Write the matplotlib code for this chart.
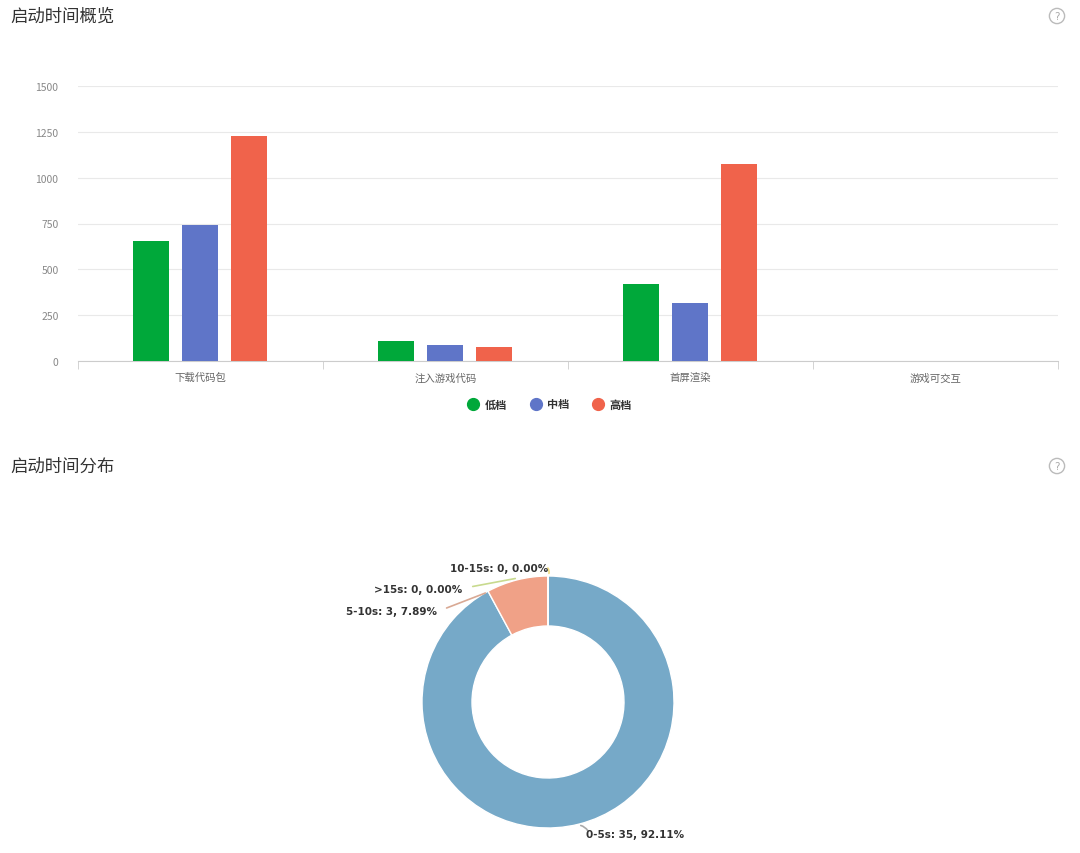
import numpy as np
import matplotlib.pyplot as plt
from matplotlib.lines import Line2D

plt.rcParams['font.family'] = ['Noto Sans CJK SC', 'DejaVu Sans']

# data
stages = ['下载代码包', '注入游戏代码', '首屏渲染', '游戏可交互']
low = [655, 109, 420, 0]
mid = [742, 87, 316, 0]
high = [1227, 76, 1075, 0]
tiers = ['低档', '中档', '高档']
tier_colors = ['#00a83a', '#5f75c8', '#f0634b']

ranges = ['0-5s', '5-10s', '>15s', '10-15s']
counts = [35, 3, 0, 0]
pie_colors = ['#76a9c8', '#f0a187', '#c8da8e', '#f0dc80']

W, H = 1080, 854
fig = plt.figure(figsize=(W / 100, H / 100), dpi=100)

# ---- titles + help icons
for ty, title in [(17, '启动时间概览'), (467, '启动时间分布')]:
    fig.text(10 / W, 1 - ty / H, title, fontsize=12.5, color='#333333', va='center', ha='left')
    fig.text(1057 / W, 1 - ty / H, '?', fontsize=7.5, color='#aaaaaa', va='center', ha='center',
             family='DejaVu Sans',
             bbox=dict(boxstyle='circle,pad=0.25', fc='white', ec='#bbbbbb', lw=1))

# ---- bar chart
ax = fig.add_axes([78 / W, 1 - 362 / H, (1058 - 78) / W, (362 - 87) / H])
x = np.arange(len(stages))
bw = 36 / 245
for i, (vals, name, c) in enumerate(zip([low, mid, high], tiers, tier_colors)):
    ax.bar(x + (i - 1) * 0.2 - 0.004, vals, width=bw, color=c, label=name, zorder=3)

ax.set_xlim(-0.5, len(stages) - 0.5)
ax.set_ylim(0, 1500)
ax.set_yticks(np.arange(0, 1501, 250))
ax.grid(axis='y', color='#e9e9e9', lw=0.8, zorder=0)
for s in ['top', 'right', 'left']:
    ax.spines[s].set_visible(False)
ax.spines['bottom'].set_color('#cccccc')
ax.tick_params(axis='y', length=0, labelsize=7.5, labelcolor='#888888', pad=14)
ax.set_xticks(x)
ax.set_xticklabels(stages, fontsize=7.5, color='#666666')
ax.tick_params(axis='x', length=0, pad=8)
ax.set_xticks(np.arange(-0.5, len(stages)), minor=True)
ax.tick_params(axis='x', which='minor', length=6, color='#cccccc')

handles = [Line2D([], [], ls='', marker='o', ms=8.5, color=c) for c in tier_colors]
leg = fig.legend(handles, tiers, loc='center', bbox_to_anchor=(550 / W, 1 - 405 / H),
                 ncol=3, frameon=False, handlelength=0.8, columnspacing=2.2,
                 handletextpad=0.6, prop={'weight': 'bold', 'size': 8})
for t in leg.get_texts():
    t.set_color('#333333')

# ---- donut chart (axes in pixel units, y up)
pax = fig.add_axes([0, 0, 1, 1])
cx, cy = 548, H - 703
R, r = 126, 76
total = sum(counts)
pax.pie(counts, colors=pie_colors, startangle=90, counterclock=False, radius=R, center=(cx, cy),
        wedgeprops=dict(width=R - r, edgecolor='white', linewidth=1))
pax.set_xlim(0, W)
pax.set_ylim(0, H)
pax.set_aspect('auto')
pax.axis('off')

# labels with leader lines (label anchor and line points)
layout = {
    '0-5s': ((578, 826), (589, 834), (586, 835), 'left', '#aaaaaa', 0.3),
    '5-10s': ((488, 593), (444, 610), (437, 612), 'right', '#d9a994', 0),
    '>15s': ((518, 579), (470, 588), (462, 590), 'right', '#c8da8e', 0),
    '10-15s': ((548, 577), (546, 567), (548, 569), 'right', '#f0dc80', -0.4),
}
for name, n in zip(ranges, counts):
    p0, p1, pt, ha, lc, rad = layout[name]
    pax.annotate('', xy=(p0[0], H - p0[1]), xytext=(p1[0], H - p1[1]),
                 arrowprops=dict(arrowstyle='-', color=lc, lw=1.2,
                                 connectionstyle=f'arc3,rad={rad}'))
    pax.text(pt[0], H - pt[1], f'{name}: {n}, {n / total * 100:.2f}%', fontsize=7.5,
             fontweight='bold', color='#333333', ha=ha, va='center', family='DejaVu Sans')

fig.savefig('out.png', dpi=100, facecolor='white')
